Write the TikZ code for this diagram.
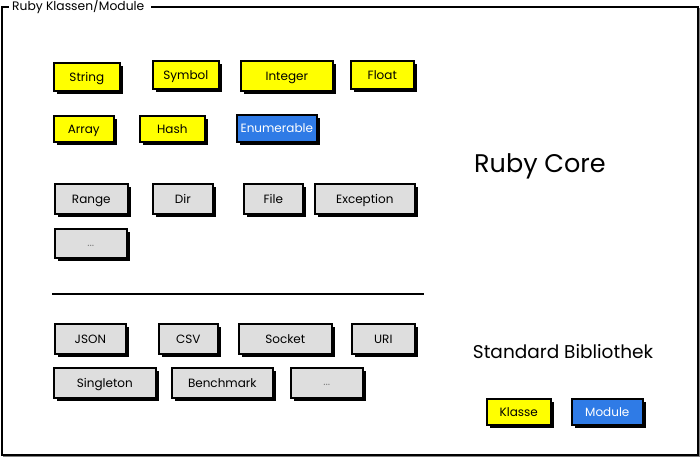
\documentclass[tikz,border=0pt]{standalone}
\usepackage{fontspec}
\setmainfont{Poppins}
\usetikzlibrary{shadows}
\definecolor{kyellow}{HTML}{FFFF00}
\definecolor{kblue}{HTML}{2F7BE6}
\definecolor{kgray}{HTML}{DEDEDE}
\tikzset{
  box/.style={draw=black, line width=1.6pt, anchor=north west, inner sep=0pt,
    font=\fontsize{12}{14}\selectfont, text=black, text height=9pt, text depth=0.5pt,
    drop shadow={shadow xshift=3pt, shadow yshift=-3pt, fill=black, opacity=1}},
  ybox/.style={box, fill=kyellow},
  bbox/.style={box, fill=kblue, text=white},
  gbox/.style={box, fill=kgray},
  dotbox/.style={gbox, font=\fontsize{11}{12}\selectfont, text=gray, text height=6pt},
}
\begin{document}
\begin{tikzpicture}[x=1pt,y=-1pt]
\useasboundingbox (0,0) rectangle (700,459);
% outer frame
\draw[line width=1.8pt] (151,7) -- (698,7) -- (698,455) -- (2,455) -- (2,7) -- (9,7);
\draw[line width=1.2pt, gray] (3,456.8) -- (699.4,456.8) -- (699.4,8);
\node[anchor=west, font=\fontsize{12.3}{14}\selectfont, inner sep=0pt] (title) at (12,6.5) {Ruby Klassen/Module};
% row 1
\node[ybox, minimum width=66, minimum height=28] (string) at (53,62) {String};
\node[ybox, minimum width=66, minimum height=28] (symbol) at (152,60) {Symbol};
\node[ybox, minimum width=92, minimum height=30] (integer) at (240,60) {Integer};
\node[ybox, minimum width=63, minimum height=28] (float) at (350,60) {Float};
% row 2
\node[ybox, minimum width=60, minimum height=26] (array) at (53,115) {Array};
\node[ybox, minimum width=65, minimum height=26] (hash) at (139,115) {Hash};
\node[bbox, minimum width=80, minimum height=27] (enum) at (236,114) {Enumerable};
% row 3
\node[gbox, minimum width=73, minimum height=30] (range) at (54,183) {Range};
\node[gbox, minimum width=60, minimum height=30] (dir) at (152,183) {Dir};
\node[gbox, minimum width=59, minimum height=30] (file) at (243,183) {File};
\node[gbox, minimum width=100, minimum height=30] (exception) at (314,183) {Exception};
\node[dotbox, minimum width=72, minimum height=29] (dots1) at (54,228) {...};
% separator
\coordinate (l1) at (52,294);
\coordinate (l2) at (424,294);
\draw[line width=1.1pt] (l1) -- (l2);
% std lib
\node[gbox, minimum width=71, minimum height=30] (json) at (54,323) {JSON};
\node[gbox, minimum width=59, minimum height=30] (csv) at (158,323) {CSV};
\node[gbox, minimum width=93, minimum height=30] (socket) at (238,323) {Socket};
\node[gbox, minimum width=63, minimum height=30] (uri) at (351,323) {URI};
\node[gbox, minimum width=102, minimum height=30] (singleton) at (53,367) {Singleton};
\node[gbox, minimum width=101, minimum height=30] (benchmark) at (171,367) {Benchmark};
\node[dotbox, minimum width=72, minimum height=30] (dots2) at (290,367) {...};
% labels
\node[font=\fontsize{25.5}{28}\selectfont] (core) at (540,166) {Ruby Core};
\node[font=\fontsize{18.5}{21}\selectfont] (std) at (563,352) {Standard Bibliothek};
% legend
\node[ybox, minimum width=64, minimum height=26] (klasse) at (486,398) {Klasse};
\node[bbox, minimum width=71, minimum height=26] (module) at (571,398) {Module};
\end{tikzpicture}
\end{document}
